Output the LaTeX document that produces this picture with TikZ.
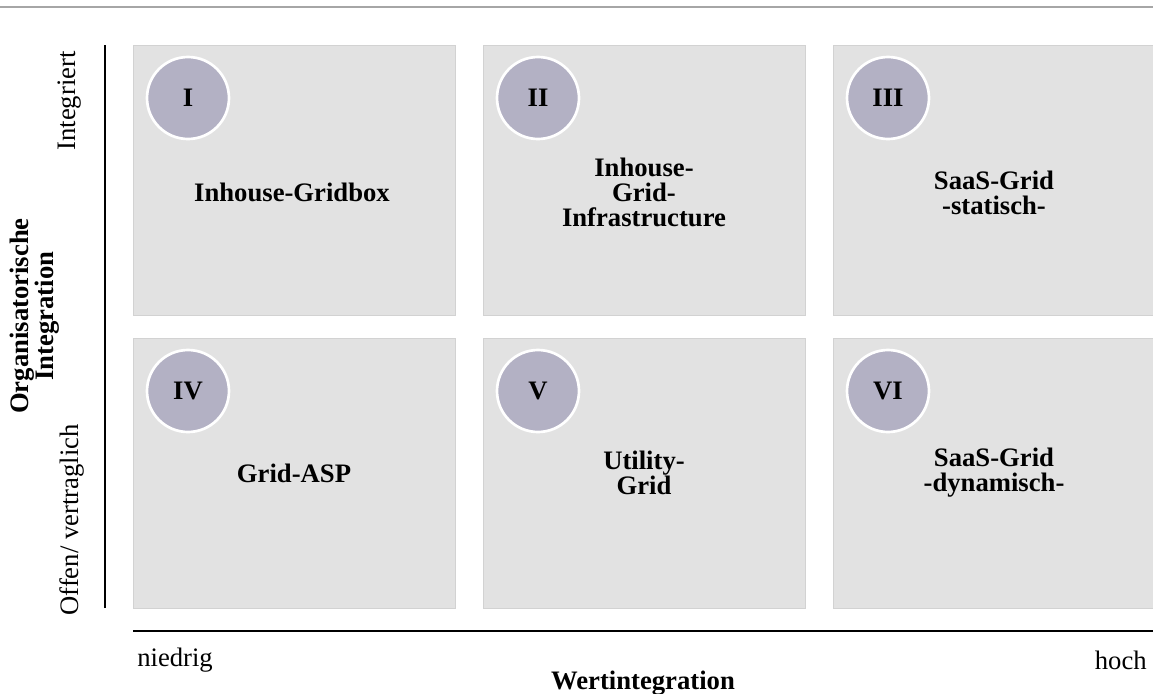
\documentclass[tikz,border=0pt]{standalone}
\usepackage{fontspec}
\setmainfont{Liberation Serif}
\usetikzlibrary{positioning}
\definecolor{boxfill}{HTML}{E2E2E2}
\definecolor{boxline}{HTML}{D2D2D2}
\definecolor{badgefill}{HTML}{B3B1C4}
\definecolor{rulegray}{HTML}{A6A6A6}
\newcommand{\diagfont}{\fontsize{20}{18.75}\selectfont}
\tikzset{
  quadrant/.style={rectangle,draw=boxline,fill=boxfill,line width=0.6pt,minimum width=241.5pt,minimum height=202.5pt,inner sep=0pt},
  badge/.style={circle,draw=white,line width=2pt,fill=badgefill,minimum size=61.5pt,inner sep=0pt,font=\diagfont\bfseries},
  title/.style={align=center,inner sep=0pt,font=\diagfont\bfseries},
  tick/.style={inner sep=0pt,font=\diagfont},
  axis/.style={line width=1.5pt,black}
}
\begin{document}
\begin{tikzpicture}[x=0.75pt,y=-0.75pt]
  \useasboundingbox (0,0) rectangle (1153,693);

  % top rule
  \coordinate (rl) at (0,7);
  \coordinate (rr) at (1153,7);
  \draw[line width=1.5pt,rulegray] (rl) -- (rr);

  % the six fields
  \node[quadrant] (q1) at (294,180) {};
  \node[quadrant] (q2) at (644,180) {};
  \node[quadrant] (q3) at (994,180) {};
  \node[quadrant] (q4) at (294,473) {};
  \node[quadrant] (q5) at (644,473) {};
  \node[quadrant] (q6) at (994,473) {};

  \node[badge] (b1) at (188,98) {I};
  \node[badge] (b2) at (538,98) {II};
  \node[badge] (b3) at (888,98) {III};
  \node[badge] (b4) at (188,391) {IV};
  \node[badge] (b5) at (538,391) {V};
  \node[badge] (b6) at (888,391) {VI};

  \node[title] (t1) at (292,192) {Inhouse-Gridbox};
  \node[title] (t2) at (644,192) {Inhouse-\\Grid-\\Infrastructure};
  \node[title] (t3) at (994,193) {SaaS-Grid\\-statisch-};
  \node[title] (t4) at (294,473) {Grid-ASP};
  \node[title] (t5) at (644,473) {Utility-\\Grid};
  \node[title] (t6) at (994,473) {SaaS-Grid\\-dynamisch-};

  % axes
  \coordinate (ytop) at (105,45);
  \coordinate (ybot) at (105,608);
  \coordinate (xlft) at (133,631);
  \coordinate (xrgt) at (1153,631);
  \draw[axis] (ybot) -- (ytop);
  \draw[axis] (xlft) -- (xrgt);

  \node[tick,anchor=west] (lo) at (137,660) {niedrig};
  \node[tick,anchor=east] (hi) at (1147,660) {hoch};
  \node[title] (xname) at (643,683) {Wertintegration};

  \node[tick,rotate=90] (top) at (70,101) {Integriert};
  \node[tick,rotate=90] (bot) at (72,520) {Offen/ vertraglich};
  \node[title,rotate=90] (yname) at (35,316) {Organisatorische\\Integration};

\end{tikzpicture}
\end{document}
